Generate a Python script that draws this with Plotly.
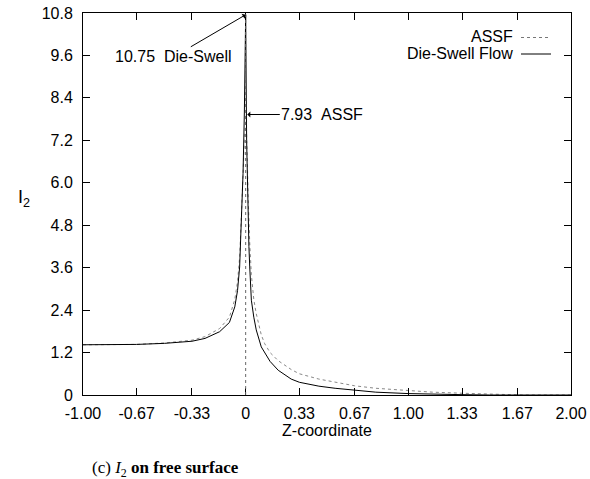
import plotly.graph_objects as go

# Die-Swell Flow (solid)
z_die = [-1.0, -0.8, -0.67, -0.5, -0.4, -0.33, -0.25, -0.16, -0.1, -0.067, -0.05,
         -0.037, -0.026, -0.016, -0.008, 0.0, 0.006, 0.012, 0.02, 0.025, 0.035, 0.05,
         0.065, 0.096, 0.15, 0.2, 0.28, 0.33, 0.45, 0.55, 0.67, 0.8, 1.0, 1.15, 1.33,
         1.5, 2.0]
i2_die = [1.42, 1.42, 1.43, 1.46, 1.49, 1.52, 1.6, 1.79, 2.05, 2.49, 2.95,
          3.62, 5.03, 6.27, 8.0, 10.75, 7.2, 5.6, 4.2, 3.62, 2.68, 2.2,
          1.84, 1.36, 0.95, 0.7, 0.45, 0.36, 0.25, 0.19, 0.13, 0.08, 0.04, 0.02, 0.01,
          0.0, 0.0]

# ASSF (dotted)
z_assf = [-1.0, -0.8, -0.67, -0.5, -0.4, -0.33, -0.25, -0.16, -0.1, -0.067, -0.05,
          -0.037, -0.026, -0.016, -0.008, 0.003, 0.01, 0.016, 0.025, 0.035, 0.05,
          0.065, 0.096, 0.117, 0.15, 0.2, 0.28, 0.33, 0.45, 0.55, 0.67, 0.8, 1.0,
          1.15, 1.33, 1.5, 1.7, 2.0]
i2_assf = [1.42, 1.42, 1.43, 1.47, 1.51, 1.55, 1.65, 1.88, 2.2, 2.7, 3.2,
           3.9, 5.1, 6.3, 7.2, 7.93, 6.4, 5.5, 4.3, 3.4, 2.7,
           2.3, 1.7, 1.45, 1.2, 0.97, 0.72, 0.6, 0.45, 0.36, 0.26, 0.19, 0.12,
           0.08, 0.05, 0.02, 0.0, 0.0]

x_ticks = [-1.0, -0.67, -0.33, 0.0, 0.33, 0.67, 1.0, 1.33, 1.67, 2.0]
x_labels = ["-1.00", "-0.67", "-0.33", "0", "0.33", "0.67", "1.00", "1.33", "1.67", "2.00"]
y_ticks = [0, 1.2, 2.4, 3.6, 4.8, 6.0, 7.2, 8.4, 9.6, 10.8]
y_labels = ["0", "1.2", "2.4", "3.6", "4.8", "6.0", "7.2", "8.4", "9.6", "10.8"]

FONT = "Liberation Sans, Arial, sans-serif"
FS = 16
NB = "\u00a0"

W, H = 590, 479
# plot area in page pixels: left 83, right 571, top 13, bottom 395
L, T = 83, 13
R = W - 571
B = H - 395
pw, ph = W - L - R, H - T - B

def px(xp):
    return (xp - L) / pw

def py(yp):
    return (H - yp - B) / ph

fig = go.Figure()
fig.add_trace(go.Scatter(x=z_assf, y=i2_assf, mode="lines", name="ASSF",
                         line=dict(color="#888888", width=1, dash="dot")))
fig.add_trace(go.Scatter(x=z_die, y=i2_die, mode="lines", name="Die-Swell Flow",
                         line=dict(color="black", width=1)))

axis_common = dict(showline=True, linecolor="black", linewidth=1, mirror="allticks",
                   ticks="inside", ticklen=7, tickcolor="black", showgrid=False,
                   zeroline=False, automargin=False, ticklabeloverflow="allow",
                   tickfont=dict(family=FONT, size=FS, color="black"))

fig.update_xaxes(range=[-1.0, 2.0], tickvals=x_ticks, ticktext=x_labels,
                 ticklabelstandoff=4,
                 title=dict(text="Z-coordinate", font=dict(family=FONT, size=FS, color="black"),
                            standoff=2),
                 **axis_common)
fig.update_yaxes(range=[0, 10.8], tickvals=y_ticks, ticktext=y_labels,
                 ticklabelstandoff=6, **axis_common)

annots = [
    dict(x=0, y=10.75, xref="x", yref="y", text="10.75" + NB + NB + "Die-Swell", showarrow=True,
         ax=-72, ay=42, arrowhead=1, arrowsize=1, arrowwidth=1, arrowcolor="black",
         font=dict(family=FONT, size=FS, color="black")),
    dict(x=0.01, y=7.93, xref="x", yref="y", text="7.93" + NB + NB + "ASSF", showarrow=True,
         ax=75, ay=0, arrowhead=1, arrowsize=1, arrowwidth=1, arrowcolor="black",
         font=dict(family=FONT, size=FS, color="black")),
    dict(x=px(515), y=py(37), xref="paper", yref="paper", text="ASSF", showarrow=False,
         xanchor="right", yanchor="middle", font=dict(family=FONT, size=FS, color="black")),
    dict(x=px(515), y=py(54), xref="paper", yref="paper", text="Die-Swell Flow", showarrow=False,
         xanchor="right", yanchor="middle", font=dict(family=FONT, size=FS, color="black")),
    dict(x=px(24), y=py(198), xref="paper", yref="paper", text="I<sub>2</sub>", showarrow=False,
         xanchor="center", yanchor="middle", font=dict(family=FONT, size=18, color="black")),
    dict(x=px(165), y=py(469), xref="paper", yref="paper",
         text="(c)" + NB + "<i>I</i><sub>2</sub>" + NB + "<b>on free surface</b>", showarrow=False,
         xanchor="center", yanchor="middle",
         font=dict(family="Liberation Serif, DejaVu Serif, serif", size=17, color="black")),
]

shapes = [
    # dotted zero axis
    dict(type="line", xref="x", yref="paper", x0=0, x1=0, y0=0, y1=1,
         line=dict(color="#666666", width=1, dash="dot")),
    # legend samples
    dict(type="line", xref="paper", yref="paper", x0=px(521), x1=px(551), y0=py(37.5), y1=py(37.5),
         line=dict(color="#777777", width=1, dash="dot")),
    dict(type="line", xref="paper", yref="paper", x0=px(521), x1=px(551), y0=py(54), y1=py(54),
         line=dict(color="black", width=1)),
]

fig.update_layout(width=W, height=H,
                  margin=dict(l=L, r=R, t=T, b=B, autoexpand=False),
                  paper_bgcolor="white", plot_bgcolor="white", showlegend=False,
                  annotations=annots, shapes=shapes,
                  font=dict(family=FONT, color="black"))

fig.write_html("out.html", config={"displayModeBar": False},
               post_script="document.body.style.margin='0px';"
                           "document.body.style.overflow='hidden';")
